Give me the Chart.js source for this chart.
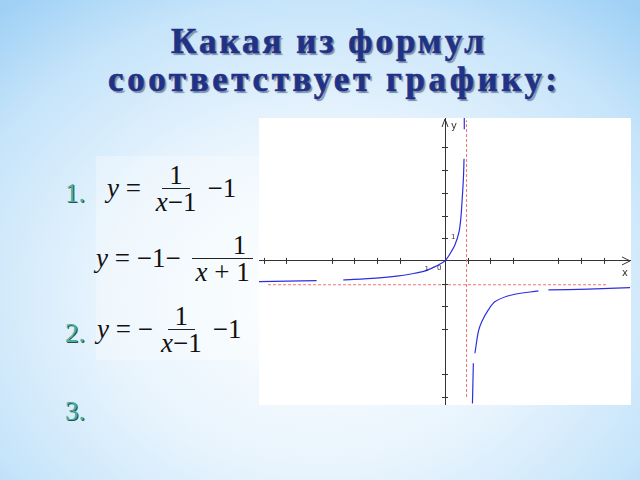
<!DOCTYPE html>
<html>
<head>
<meta charset="utf-8">
<script src="https://cdn.jsdelivr.net/npm/chart.js@4"></script>
<style>
  html, body { margin: 0; padding: 0; }
  body {
    width: 640px; height: 480px; overflow: hidden; position: relative;
    background: radial-gradient(ellipse 75% 80% at 50% 62%, #ffffff 0%, #e8f4fd 45%, #c6e4fa 78%, #9fd1f5 100%);
    font-family: "Liberation Serif", serif;
  }
  .title {
    position: absolute; text-align: left; white-space: nowrap;
    font-family: "Liberation Serif"; font-weight: bold; font-size: 35px;
    letter-spacing: 3px; -webkit-text-stroke: 0.6px #1f3286;
    color: #1f3286; text-shadow: 2px 2px 1px #7d8ca6;
  }
  .num {
    position: absolute; font-family: "Liberation Serif", serif; font-size: 27px;
    color: #4dae9c; text-shadow: 1px 1px 0 #24524a;
  }
  .f {
    position: absolute; font-size: 27px; color: #111; display: flex; align-items: center;
    white-space: pre;
  }
  .f i { font-style: italic; }
  .frac { display: inline-flex; flex-direction: column; align-items: center; margin: 0 4px 0 1px; }
  .frac span { line-height: 26px; padding: 0 7px; white-space: pre; }
  .frac .top { border-bottom: 1.3px solid #222; }
  .formbg {
    position: absolute; left: 96px; top: 156px; width: 164px; height: 204px;
    background: rgba(255,255,255,0.3);
  }
  #panel {
    position: absolute; left: 259px; top: 118px; width: 372px; height: 287px; background: #fff;
  }
</style>
</head>
<body>
<div class="title" style="left:171px; top:22px">Какая из формул</div>
<div class="title" style="left:108px; top:60px; letter-spacing:3.6px">соответствует графику:</div>

<div class="formbg"></div>

<div class="num" style="left:65px; top:178px">1.</div>
<div class="f" style="left:107px; top:162px"><i>y</i> = <span class="frac"><span class="top">1</span><span><i>x</i>−1</span></span>−1</div>

<div class="f" style="left:96px; top:232px"><i>y</i> = −1− <span class="frac"><span class="top">     1</span><span><i>x</i> + 1</span></span></div>

<div class="num" style="left:65px; top:318px">2.</div>
<div class="f" style="left:97px; top:303px"><i>y</i> = −<span class="frac"><span class="top">1</span><span><i>x</i>−1</span></span>−1</div>

<div class="num" style="left:65px; top:396px">3.</div>

<div id="panel"><canvas id="graph" width="372" height="287"></canvas></div>

<script>
// curve (two branches, gaps kept as null)
const leftX  = [-8.24, -5.66, null, -4.49, -3.03, -2.03, -1.32, -0.9, -0.44, -0.2, 0, 0.2, 0.44, 0.62, 0.7, 0.76, 0.81, 0.84, null, 0.85, 0.85];
const leftY  = [-0.91, -0.87, null, -0.84, -0.76, -0.66, -0.54, -0.45, -0.25, -0.12, 0, 0.28, 0.71, 1.29, 1.9, 2.76, 3.6, 4.5, null, 5.8, 6.3];
const rightX = [1.21, 1.25, null, 1.32, 1.47, 1.62, 1.91, 2.21, 2.94, 4.12, null, 4.56, 6.32, 8.16];
const rightY = [-6.28, -4.51, null, -4.07, -3.12, -2.68, -2.16, -1.79, -1.5, -1.32, null, -1.28, -1.24, -1.18];

// asymptotes
const asymX = 0.95;
const asymY = -1.05;
const asymXRange = [-7.8, 7.1];
const asymYRange = [-6.0, 6.2];

// tick marks drawn on the axes
const xTicks = [-8, -7, -5, -4, -3, -2, 1, 2, 3, 5, 6, 7];
const yTicks = [5, 4, 3, 2, 1, -1, -2, -3, -5, -6];

const toPts = (xs, ys) => xs.map((x, i) => x === null ? { x: null, y: null } : { x: x, y: ys[i] });

const axisDecor = {
  id: 'axisDecor',
  afterDraw(chart) {
    const ctx = chart.ctx, sx = chart.scales.x, sy = chart.scales.y;
    const ox = sx.getPixelForValue(0), oy = sy.getPixelForValue(0);
    ctx.save();
    ctx.strokeStyle = '#333'; ctx.lineWidth = 1;
    ctx.beginPath();
    xTicks.forEach(v => { const p = Math.round(sx.getPixelForValue(v)) + 0.5; ctx.moveTo(p, oy - 3); ctx.lineTo(p, oy + 3); });
    yTicks.forEach(v => { const p = Math.round(sy.getPixelForValue(v)) + 0.5; ctx.moveTo(ox - 3, p); ctx.lineTo(ox + 3, p); });
    // arrows
    const r = chart.chartArea.right - 1, t = chart.chartArea.top + 1;
    ctx.moveTo(r - 8, oy - 4); ctx.lineTo(r, oy); ctx.lineTo(r - 8, oy + 4);
    ctx.moveTo(ox - 3, t + 8); ctx.lineTo(ox, t); ctx.lineTo(ox + 3, t + 8);
    ctx.stroke();
    ctx.fillStyle = '#333'; ctx.font = '10px "DejaVu Sans"';
    ctx.fillText('x', r - 8, oy + 15);
    ctx.fillText('y', ox + 6, t + 10);
    ctx.font = '7px "DejaVu Sans"';
    ctx.fillText('0', ox - 8, oy + 9);
    ctx.fillText('1', sx.getPixelForValue(-0.9), oy + 10);
    ctx.fillText('1', ox + 6, sy.getPixelForValue(0.95));
    ctx.restore();
  }
};

new Chart(document.getElementById('graph'), {
  type: 'scatter',
  data: {
    datasets: [
      { data: toPts(leftX, leftY), showLine: true, borderColor: '#2e2ee0', borderWidth: 1.2, pointRadius: 0, spanGaps: false, tension: 0.3 },
      { data: toPts(rightX, rightY), showLine: true, borderColor: '#2e2ee0', borderWidth: 1.2, pointRadius: 0, spanGaps: false, tension: 0.3 },
      { data: [{ x: asymXRange[0], y: asymY }, { x: asymXRange[1], y: asymY }], showLine: true, borderColor: '#f07070', borderWidth: 1, borderDash: [3, 2], pointRadius: 0 },
      { data: [{ x: asymX, y: asymYRange[0] }, { x: asymX, y: asymYRange[1] }], showLine: true, borderColor: '#f07070', borderWidth: 1, borderDash: [3, 2], pointRadius: 0 }
    ]
  },
  options: {
    responsive: false,
    animation: false,
    layout: { padding: 0 },
    plugins: { legend: { display: false }, tooltip: { enabled: false } },
    scales: {
      x: {
        type: 'linear', min: -8.2, max: 8.2, position: { y: 0 },
        grid: { display: false, drawTicks: false },
        border: { display: true, color: '#333', width: 1 },
        ticks: { display: false }
      },
      y: {
        type: 'linear', min: -6.35, max: 6.3, position: { x: 0 },
        grid: { display: false, drawTicks: false },
        border: { display: true, color: '#333', width: 1 },
        ticks: { display: false }
      }
    }
  },
  plugins: [axisDecor]
});
</script>
</body>
</html>
